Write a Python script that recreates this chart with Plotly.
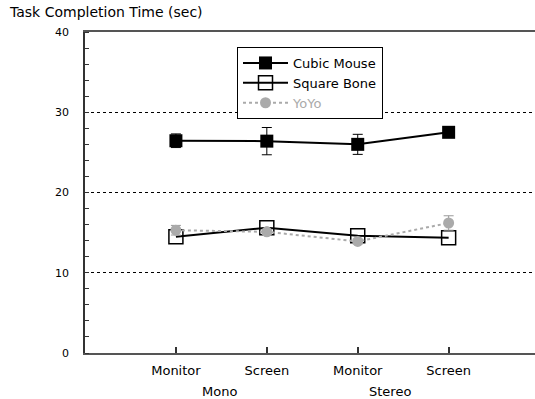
import plotly.graph_objects as go

categories = ["Monitor", "Screen", "Monitor", "Screen"]
groups = ["Mono", "Stereo"]
x_pos = [1, 2, 3, 4]

cubic_mouse = [26.45, 26.4, 26.0, 27.5]
cubic_mouse_err = [0.85, 1.7, 1.25, 0.4]
square_bone = [14.5, 15.6, 14.6, 14.35]
yoyo = [15.3, 15.1, 13.9, 16.2]
yoyo_err = [0.6, 0.3, 0.3, 0.9]

FONT = "DejaVu Sans, Verdana, sans-serif"

fig = go.Figure()
fig.add_trace(go.Scatter(
    x=x_pos, y=cubic_mouse, name="Cubic Mouse", mode="lines+markers",
    line=dict(color="black", width=2),
    marker=dict(symbol="square", size=13, color="black"),
    error_y=dict(type="data", array=cubic_mouse_err, color="black", thickness=1, width=5),
))
fig.add_trace(go.Scatter(
    x=x_pos, y=square_bone, name="Square Bone", mode="lines+markers",
    line=dict(color="black", width=2),
    marker=dict(symbol="square-open", size=14, color="black", line=dict(width=1.5)),
))
fig.add_trace(go.Scatter(
    x=x_pos, y=yoyo, name="<span style='color:#aaaaaa'>YoYo</span>", mode="lines+markers",
    line=dict(color="#aaaaaa", width=2, dash="dot"),
    marker=dict(symbol="circle", size=11, color="#aaaaaa"),
    error_y=dict(type="data", array=yoyo_err, color="#999999", thickness=1, width=5),
))

fig.update_layout(
    width=535, height=399,
    margin=dict(l=85, r=0, t=32, b=46),
    paper_bgcolor="white", plot_bgcolor="white",
    font=dict(family=FONT, size=11, color="black"),
    showlegend=True,
    legend=dict(
        x=(237 - 85) / 450, y=(353 - 47) / 321, xanchor="left", yanchor="top",
        bordercolor="black", borderwidth=1, bgcolor="white",
        font=dict(family=FONT, size=13, color="black"),
        tracegroupgap=0, itemwidth=45,
    ),
    title=dict(text="Task Completion Time (sec)", x=10/535, xref="container", xanchor="left",
               y=1-12/399, yref="container", yanchor="middle",
               font=dict(family=FONT, size=14, color="black")),
)

fig.update_xaxes(
    range=[0, 4.95], tickvals=x_pos, ticktext=categories,
    tickfont=dict(family=FONT, size=13),
    showline=True, linecolor="#555555", linewidth=1.5, mirror=True,
    ticks="inside", ticklen=6, tickcolor="#333333", tickwidth=1.5,
    showgrid=False, zeroline=False, ticklabelstandoff=5,
)
fig.update_yaxes(
    range=[0, 40], tickvals=[0, 10, 20, 30, 40],
    tickfont=dict(family=FONT, size=11),
    showline=True, linecolor="#333333", linewidth=1.5,
    ticks="", showgrid=True, gridcolor="black", gridwidth=1, griddash="dot",
    minor=dict(dtick=2, ticks="inside", ticklen=4, tickcolor="#333333", showgrid=False),
    zeroline=False, ticklabelstandoff=12,
)

for label, xv in zip(groups, [1.48, 3.35]):
    fig.add_annotation(text=label, x=xv, xref="x", y=0, yref="paper",
                       yanchor="middle", yshift=-38, showarrow=False,
                       font=dict(family=FONT, size=13, color="black"))

fig.write_html("out.html", config={"displayModeBar": False},
               post_script="document.body.style.margin='0';document.body.style.overflow='hidden';")
